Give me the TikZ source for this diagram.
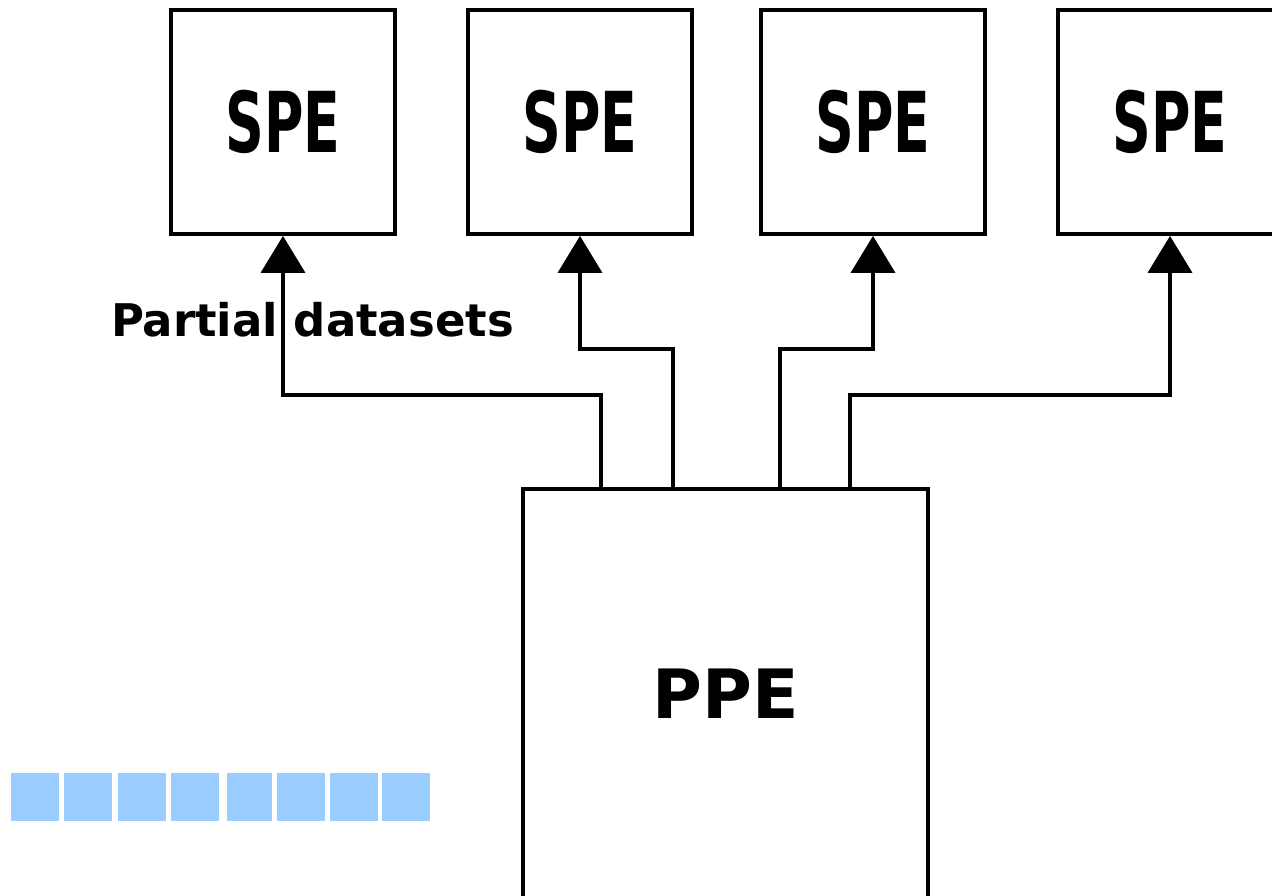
\documentclass[tikz,border=0pt]{standalone}
\usepackage{fontspec}
\setmainfont{DejaVu Sans}
\usetikzlibrary{arrows.meta}
\definecolor{cellblue}{HTML}{99CCFF}
\tikzset{
  unit/.style={draw, line width=3.8pt, rectangle, inner sep=0pt,
    minimum width=224pt, minimum height=224pt},
  host/.style={draw, line width=3.8pt, rectangle, inner sep=0pt,
    minimum width=405pt, minimum height=414pt},
  link/.style={line width=3.8pt, -{Triangle[length=37pt,width=44pt]}},
  cell/.style={fill=cellblue, draw=none},
}
\newcommand{\spelabel}{\scalebox{0.64}[1]{\fontsize{84}{84}\selectfont\bfseries SPE}}
\begin{document}
\begin{tikzpicture}[x=1pt, y=-1pt]
  \useasboundingbox (0,0) rectangle (1272,895);
  \clip (0,0) rectangle (1272,895);

  % processing elements
  \node[unit] (S1) at (283,122) {\spelabel};
  \node[unit] (S2) at (580,122) {\spelabel};
  \node[unit] (S3) at (873,122) {\spelabel};
  \node[unit] (S4) at (1170,122) {\spelabel};
  \node[host] (P) at (725.5,696)
    {\raisebox{4pt}{\fontsize{68}{68}\selectfont\bfseries PPE}};

  % data distribution
  \draw[link] ([xshift=-124.5pt]P.north) -- ++(0,-92) -| (S1.south);
  \draw[link] ([xshift=-52.5pt]P.north) -- ++(0,-138) -| (S2.south);
  \draw[link] ([xshift=54.5pt]P.north) -- ++(0,-138) -| (S3.south);
  \draw[link] ([xshift=124.5pt]P.north) -- ++(0,-92) -| (S4.south);

  \node[anchor=base] (lbl) at (312.5,336)
    {\fontsize{45}{45}\selectfont\bfseries Partial datasets};

  % data cells
  \foreach \a/\b [count=\i] in {11/59, 64/112, 118/166, 171/219, 227/272, 277/325, 330/378, 382/430}
    \path[cell] (\a,773) rectangle (\b,821) coordinate (c\i);
\end{tikzpicture}
\end{document}
